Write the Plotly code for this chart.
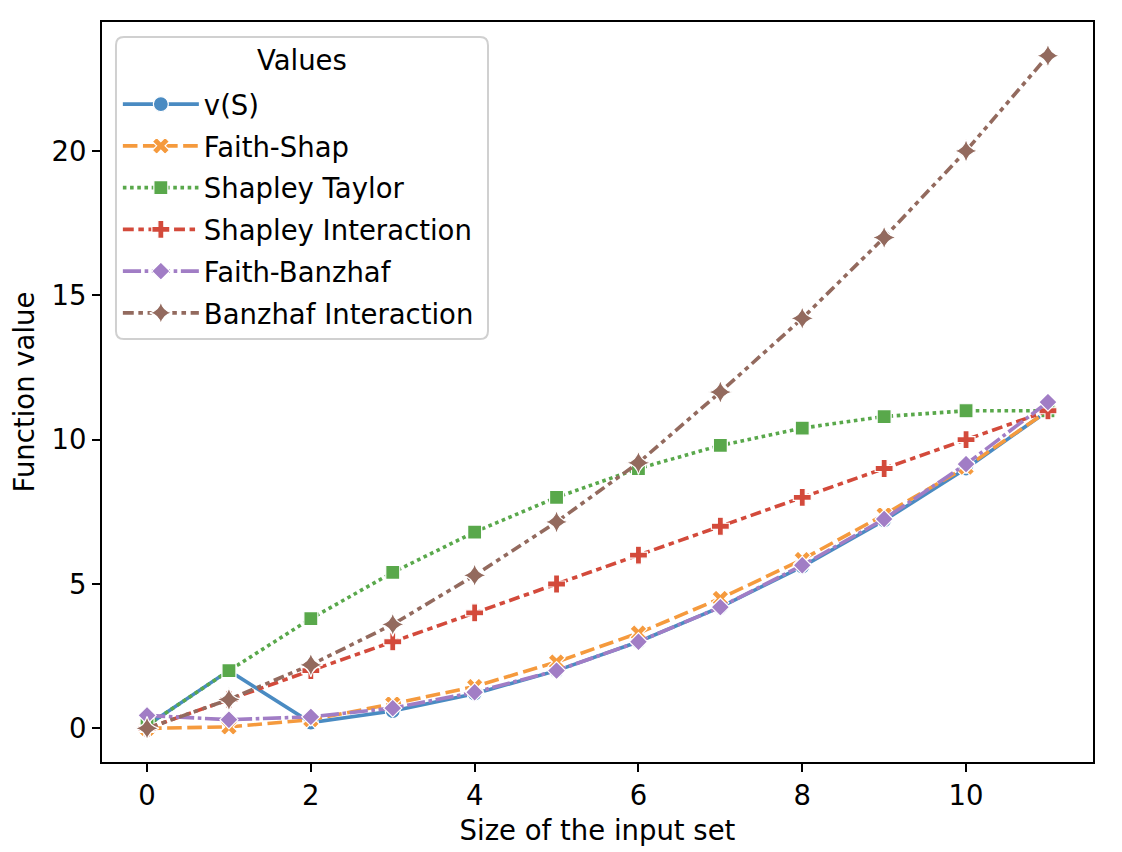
import plotly.graph_objs as go

# size of the input set
sizes = [0, 1, 2, 3, 4, 5, 6, 7, 8, 9, 10, 11]

# function values per method
v_s = [0.1, 2.0, 0.2, 0.6, 1.2, 2.0, 3.0, 4.2, 5.6, 7.2, 9.0, 11.0]
faith_shap = [0.0, 0.05, 0.3, 0.85, 1.45, 2.3, 3.3, 4.5, 5.85, 7.4, 9.05, 11.0]
shapley_taylor = [0.1, 2.0, 3.8, 5.4, 6.8, 8.0, 9.0, 9.8, 10.4, 10.8, 11.0, 11.0]
shapley_interaction = [0.0, 1.0, 2.0, 3.0, 4.0, 5.0, 6.0, 7.0, 8.0, 9.0, 10.0, 11.0]
faith_banzhaf = [0.45, 0.3, 0.4, 0.7, 1.25, 2.0, 3.0, 4.2, 5.65, 7.25, 9.15, 11.3]
banzhaf_interaction = [0.0, 1.0, 2.2, 3.6, 5.3, 7.15, 9.2, 11.65, 14.2, 17.0, 20.0, 23.3]

names = ['v(S)', 'Faith-Shap', 'Shapley Taylor', 'Shapley Interaction',
         'Faith-Banzhaf', 'Banzhaf Interaction']
series = [v_s, faith_shap, shapley_taylor, shapley_interaction,
          faith_banzhaf, banzhaf_interaction]
colors = ['#4a8bc2', '#f59a3d', '#59a84b', '#d34a3b', '#a17dc5', '#936a5e']
symbols = ['circle', 'x', 'square', 'cross', 'diamond', 'star-diamond']
dashes = ['solid', '14.6px,5.5px', '3.6px,3.6px', '10.9px,4.6px,5.5px,4.6px',
          '18.2px,3.6px,3.6px,3.6px', '10.9px,4.6px,4.6px,4.6px,4.6px,4.6px']
msizes = [15, 15, 14, 15, 14, 17]

FONT = 'DejaVu Sans'
FS = 27.5

data = []
for name, ys, col, sym, dash, ms in zip(names, series, colors, symbols, dashes, msizes):
    data.append(go.Scatter(
        x=sizes, y=ys, name=name, mode='lines+markers',
        legendgroup=name,
        line=dict(color=col, width=3.6, dash=dash),
        marker=dict(symbol=sym, size=ms, color=col, line=dict(color='white', width=1.2))))

axis = dict(showgrid=False, zeroline=False, showline=True, mirror=True,
            linecolor='black', linewidth=1.9, ticks='outside', ticklen=8,
            tickwidth=1.9, tickcolor='black',
            tickfont=dict(family=FONT, size=FS, color='black'))

# legend frame drawn as a rounded box (paper coords), title as annotation
x0, x1, y0, y1 = 0.0141, 0.3895, 0.5716, 0.9797
rx, ry = 0.008, 0.011
frame = (f'M {x0+rx},{y0} L {x1-rx},{y0} Q {x1},{y0} {x1},{y0+ry} '
         f'L {x1},{y1-ry} Q {x1},{y1} {x1-rx},{y1} L {x0+rx},{y1} '
         f'Q {x0},{y1} {x0},{y1-ry} L {x0},{y0+ry} Q {x0},{y0} {x0+rx},{y0} Z')

# page is drawn with an 8px offset, margins account for it
layout = go.Layout(
    width=1122, height=852,
    margin=dict(l=94, r=37, t=14, b=98),
    paper_bgcolor='white', plot_bgcolor='white',
    font=dict(family=FONT, size=FS, color='black'),
    xaxis=dict(axis, range=[-0.55, 11.55], tickvals=[0, 2, 4, 6, 8, 10],
               title=dict(text='Size of the input set', standoff=11,
                          font=dict(family=FONT, size=FS))),
    yaxis=dict(axis, range=[-1.165, 24.465], tickvals=[0, 5, 10, 15, 20],
               title=dict(text='Function value', standoff=12,
                          font=dict(family=FONT, size=FS))),
    shapes=[dict(type='path', xref='paper', yref='paper', path=frame,
                 fillcolor='rgba(255,255,255,0.8)',
                 line=dict(color='#d0d0d0', width=2), layer='above')],
    annotations=[dict(text='Values', xref='paper', yref='paper',
                      x=0.2018, y=0.9486, xanchor='center', yanchor='middle',
                      showarrow=False,
                      font=dict(family=FONT, size=FS, color='black'))],
    showlegend=True,
    legend=dict(x=0.016, y=0.922, xanchor='left', yanchor='top',
                bgcolor='rgba(0,0,0,0)', borderwidth=0,
                itemwidth=76, tracegroupgap=3,
                font=dict(family=FONT, size=FS, color='black')),
)

fig = go.Figure(data=data, layout=layout)
fig.write_html("out.html")
